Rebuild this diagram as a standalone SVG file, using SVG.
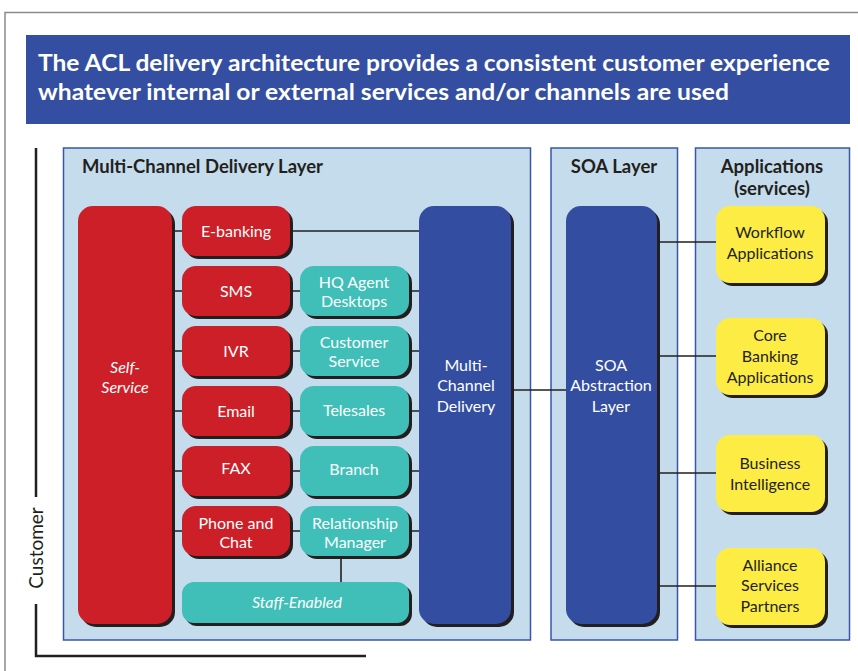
<svg xmlns="http://www.w3.org/2000/svg" width="858" height="671" viewBox="0 0 858 671">
  <style>
    .frame { fill: none; stroke: #8a8a8a; stroke-width: 1.5; }
    .banner { fill: #344fa1; }
    .title { font-family: Lato, "Open Sans", sans-serif; font-weight: bold; font-size: 22px; fill: #ffffff; }
    .panel { fill: #c5dcec; stroke: #3a56a8; stroke-width: 1.5; }
    .ptitle { font-family: Lato, "Open Sans", sans-serif; font-weight: bold; font-size: 18.5px; fill: #231f20; text-anchor: middle; }
    .shadow { fill: #231f20; }
    .red { fill: #cc1f28; }
    .teal { fill: #3fbfb8; }
    .blue { fill: #334ea0; }
    .yellow { fill: #fdec44; }
    .lbl { font-family: Lato, "Open Sans", sans-serif; font-size: 16px; fill: #ffffff; text-anchor: middle; }
    .dark { fill: #231f20; }
    .it { font-style: italic; }
    .wire { stroke: #231f20; stroke-width: 1.6; fill: none; }
    .axis { stroke: #231f20; stroke-width: 2.5; fill: none; }
  </style>

  <!-- outer frame -->
  <path class="frame" d="M5,680 V12.5 H870"/>

  <!-- headline banner -->
  <rect class="banner" x="26" y="35" width="824" height="89"/>
  <text class="title" x="38" y="71" textLength="792" lengthAdjust="spacingAndGlyphs">The ACL delivery architecture provides a consistent customer experience</text>
  <text class="title" x="38" y="100" textLength="691" lengthAdjust="spacingAndGlyphs">whatever internal or external services and/or channels are used</text>

  <!-- customer axis -->
  <g id="customer-axis">
    <path class="axis" d="M36,148 V497"/>
    <path class="axis" d="M36,604 V656 H366"/>
    <text transform="translate(43,548) rotate(-90)" font-family="Lato, 'Open Sans', sans-serif" font-size="19" fill="#231f20" text-anchor="middle">Customer</text>
  </g>

  <!-- layer panels -->
  <g id="panel-mcd">
    <rect class="panel" x="63.5" y="148" width="467" height="492"/>
    <text class="ptitle" x="82" y="173" text-anchor="start" style="text-anchor:start" textLength="241" lengthAdjust="spacingAndGlyphs">Multi-Channel Delivery Layer</text>
  </g>
  <g id="panel-soa">
    <rect class="panel" x="551" y="148" width="126.5" height="492"/>
    <text class="ptitle" x="614" y="173">SOA Layer</text>
  </g>
  <g id="panel-apps">
    <rect class="panel" x="695.5" y="148" width="154" height="492"/>
    <text class="ptitle" x="772" y="173">Applications</text>
    <text class="ptitle" x="772" y="195">(services)</text>
  </g>

  <!-- connectors -->
  <g id="connectors">
    <!-- self-service to channels -->
    <path class="wire" d="M172,231 H182 M172,291 H182 M172,351 H182 M172,411 H182 M172,471 H182 M172,531 H182"/>
    <!-- channels to staff desks -->
    <path class="wire" d="M290,291 H300 M290,351 H300 M290,411 H300 M290,471 H300 M290,531 H300"/>
    <!-- to multi-channel delivery -->
    <path class="wire" d="M290,231 H419 M409,291 H419 M409,351 H419 M409,411 H419 M409,471 H419 M409,531 H419"/>
    <!-- relationship manager to staff-enabled -->
    <path class="wire" d="M341,556 V582"/>
    <!-- delivery to SOA -->
    <path class="wire" d="M511,390 H566"/>
    <!-- SOA to applications -->
    <path class="wire" d="M657,242 H716 M657,356 H716 M657,473 H716 M657,586 H716"/>
  </g>

  <!-- self service -->
  <g id="self-service">
    <rect class="shadow" x="81" y="209" width="94" height="418" rx="15"/>
    <rect class="red" x="78" y="206" width="94" height="418" rx="15"/>
    <text class="lbl it" x="125" y="373">Self-</text>
    <text class="lbl it" x="125" y="393">Service</text>
  </g>

  <!-- channel nodes -->
  <g id="e-banking">
    <rect class="shadow" x="185" y="209" width="108" height="50" rx="14"/>
    <rect class="red" x="182" y="206" width="108" height="50" rx="14"/>
    <text class="lbl" x="236" y="237">E-banking</text>
  </g>
  <g id="sms">
    <rect class="shadow" x="185" y="269" width="108" height="50" rx="14"/>
    <rect class="red" x="182" y="266" width="108" height="50" rx="14"/>
    <text class="lbl" x="236" y="297">SMS</text>
  </g>
  <g id="ivr">
    <rect class="shadow" x="185" y="329" width="108" height="50" rx="14"/>
    <rect class="red" x="182" y="326" width="108" height="50" rx="14"/>
    <text class="lbl" x="236" y="357">IVR</text>
  </g>
  <g id="email">
    <rect class="shadow" x="185" y="389" width="108" height="50" rx="14"/>
    <rect class="red" x="182" y="386" width="108" height="50" rx="14"/>
    <text class="lbl" x="236" y="417">Email</text>
  </g>
  <g id="fax">
    <rect class="shadow" x="185" y="449" width="108" height="50" rx="14"/>
    <rect class="red" x="182" y="446" width="108" height="50" rx="14"/>
    <text class="lbl" x="236" y="474">FAX</text>
  </g>
  <g id="phone-chat">
    <rect class="shadow" x="185" y="509" width="108" height="50" rx="14"/>
    <rect class="red" x="182" y="506" width="108" height="50" rx="14"/>
    <text class="lbl" x="236" y="529">Phone and</text>
    <text class="lbl" x="236" y="548">Chat</text>
  </g>

  <!-- staff-enabled nodes -->
  <g id="hq-agent">
    <rect class="shadow" x="303" y="269" width="109" height="50" rx="14"/>
    <rect class="teal" x="300" y="266" width="109" height="50" rx="14"/>
    <text class="lbl" x="354" y="288">HQ Agent</text>
    <text class="lbl" x="354" y="307">Desktops</text>
  </g>
  <g id="customer-service">
    <rect class="shadow" x="303" y="329" width="109" height="50" rx="14"/>
    <rect class="teal" x="300" y="326" width="109" height="50" rx="14"/>
    <text class="lbl" x="354" y="348">Customer</text>
    <text class="lbl" x="354" y="367">Service</text>
  </g>
  <g id="telesales">
    <rect class="shadow" x="303" y="389" width="109" height="50" rx="14"/>
    <rect class="teal" x="300" y="386" width="109" height="50" rx="14"/>
    <text class="lbl" x="354" y="416">Telesales</text>
  </g>
  <g id="branch">
    <rect class="shadow" x="303" y="449" width="109" height="50" rx="14"/>
    <rect class="teal" x="300" y="446" width="109" height="50" rx="14"/>
    <text class="lbl" x="354" y="475">Branch</text>
  </g>
  <g id="relationship-manager">
    <rect class="shadow" x="303" y="509" width="109" height="50" rx="14"/>
    <rect class="teal" x="300" y="506" width="109" height="50" rx="14"/>
    <text class="lbl" x="355" y="529">Relationship</text>
    <text class="lbl" x="355" y="548">Manager</text>
  </g>
  <g id="staff-enabled">
    <rect class="shadow" x="185" y="585" width="227" height="41" rx="12"/>
    <rect class="teal" x="182" y="582" width="227" height="41" rx="12"/>
    <text class="lbl it" x="297" y="608">Staff-Enabled</text>
  </g>

  <!-- multi-channel delivery -->
  <g id="mcd">
    <rect class="shadow" x="422" y="209" width="92" height="418" rx="15"/>
    <rect class="blue" x="419" y="206" width="92" height="418" rx="15"/>
    <text class="lbl" x="466" y="371">Multi-</text>
    <text class="lbl" x="466" y="391">Channel</text>
    <text class="lbl" x="466" y="412">Delivery</text>
  </g>

  <!-- SOA abstraction -->
  <g id="soa">
    <rect class="shadow" x="569" y="209" width="91" height="418" rx="15"/>
    <rect class="blue" x="566" y="206" width="91" height="418" rx="15"/>
    <text class="lbl" x="611" y="371">SOA</text>
    <text class="lbl" x="611" y="391">Abstraction</text>
    <text class="lbl" x="611" y="412">Layer</text>
  </g>

  <!-- applications -->
  <g id="workflow">
    <rect class="shadow" x="719" y="209" width="109" height="77" rx="14"/>
    <rect class="yellow" x="716" y="206" width="109" height="77" rx="14"/>
    <text class="lbl dark" x="770" y="238">Workflow</text>
    <text class="lbl dark" x="770" y="259">Applications</text>
  </g>
  <g id="core-banking">
    <rect class="shadow" x="719" y="321" width="109" height="77" rx="14"/>
    <rect class="yellow" x="716" y="318" width="109" height="77" rx="14"/>
    <text class="lbl dark" x="770" y="341">Core</text>
    <text class="lbl dark" x="770" y="362">Banking</text>
    <text class="lbl dark" x="770" y="383">Applications</text>
  </g>
  <g id="business-intelligence">
    <rect class="shadow" x="719" y="438" width="109" height="77" rx="14"/>
    <rect class="yellow" x="716" y="435" width="109" height="77" rx="14"/>
    <text class="lbl dark" x="770" y="469">Business</text>
    <text class="lbl dark" x="770" y="490">Intelligence</text>
  </g>
  <g id="alliance">
    <rect class="shadow" x="719" y="551" width="109" height="77" rx="14"/>
    <rect class="yellow" x="716" y="548" width="109" height="77" rx="14"/>
    <text class="lbl dark" x="770" y="571">Alliance</text>
    <text class="lbl dark" x="770" y="591">Services</text>
    <text class="lbl dark" x="770" y="612">Partners</text>
  </g>
</svg>
